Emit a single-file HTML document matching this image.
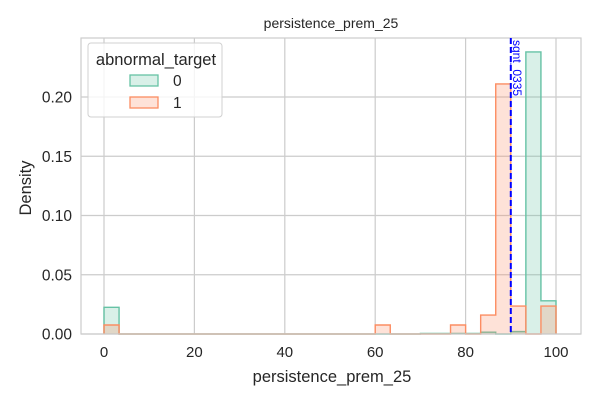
<!DOCTYPE html>
<html><head><meta charset="utf-8"><style>
html,body{margin:0;padding:0;background:#fff;}
svg{display:block;font-family:"Liberation Sans","DejaVu Sans",sans-serif;}
</style></head><body>
<svg id="chart" width="600" height="400">
<text x="331" y="28" text-anchor="middle" font-size="14" fill="#262626">persistence_prem_25</text>
<g id="grid"></g>
<g id="bars"></g>
<rect x="81" y="38" width="500" height="296" fill="none" stroke="#cccccc" stroke-width="1.2"/>
<g id="ticks"></g>
<text x="332" y="382" text-anchor="middle" font-size="16.5" fill="#262626">persistence_prem_25</text>
<text transform="translate(31,188) rotate(-90)" text-anchor="middle" font-size="16.5" fill="#262626">Density</text>
<g id="vline"></g>
<g>
<rect x="88" y="43" width="134" height="74" rx="3" fill="#fff" fill-opacity="0.8" stroke="#d0d0d0"/>
<text x="156" y="65" text-anchor="middle" font-size="16.5" fill="#262626">abnormal_target</text>
<rect x="130" y="75" width="28" height="11" fill="rgba(102,194,165,0.25)" stroke="#66c2a5" stroke-width="1.3"/>
<text x="173" y="86" font-size="15.5" fill="#262626">0</text>
<rect x="130" y="97" width="28" height="11" fill="rgba(252,141,98,0.25)" stroke="#fc8d62" stroke-width="1.3"/>
<text x="173" y="108" font-size="15.5" fill="#262626">1</text>
</g>
</svg>
<script>
const binEdges = [0,3.333,6.667,10,13.333,16.667,20,23.333,26.667,30,33.333,36.667,40,43.333,46.667,50,53.333,56.667,60,63.333,66.667,70,73.333,76.667,80,83.333,86.667,90,93.333,96.667,100];
const series0 = [0.0225,0,0,0,0,0,0,0,0,0,0,0,0,0,0,0,0,0,0,0,0,0.0005,0.0005,0.0005,0.0005,0.0015,0,0.002,0.238,0.028];
const series1 = [0.0076,0,0,0,0,0,0,0,0,0,0,0,0,0,0,0,0,0,0.0076,0,0,0,0,0.0076,0,0.016,0.211,0.0236,0,0.0236];
const xTicks = [0,20,40,60,80,100];
const yTicks = [0,0.05,0.10,0.15,0.20];
const yTickLabels = ["0.00","0.05","0.10","0.15","0.20"];
const vlineValue = 90;
const vlineLabel = "sgnt_0335";

const NS="http://www.w3.org/2000/svg";
const X = v => 104 + v*4.52;
const Y = v => 334 - v*1185;
function mk(tag, attrs, parent){const e=document.createElementNS(NS,tag);for(const k in attrs)e.setAttribute(k,attrs[k]);parent.appendChild(e);return e;}
const grid=document.getElementById('grid'), ticks=document.getElementById('ticks'), bars=document.getElementById('bars'), vl=document.getElementById('vline');
xTicks.forEach(t=>{
  const l=mk('line',{x1:X(t),x2:X(t),y1:38,y2:334,stroke:'#cccccc','stroke-width':1.2},grid);
  
  
  const tx=mk('text',{x:X(t),y:357,'text-anchor':'middle','font-size':15,fill:'#262626'},ticks);
  tx.textContent=t;
  
  
});
yTicks.forEach((t,i)=>{
  const l=mk('line',{x1:81,x2:581,y1:Y(t),y2:Y(t),stroke:'#cccccc','stroke-width':1.2},grid);
  
  
  const tx=mk('text',{x:72,y:Y(t)+5.5,'text-anchor':'end','font-size':15.5,fill:'#262626'},ticks);
  tx.textContent=yTickLabels[i];
  
  
});
function stepPath(vals){
  let d='M'+X(binEdges[0])+','+Y(0);
  vals.forEach((v,i)=>{d+=' L'+X(binEdges[i])+','+Y(v)+' L'+X(binEdges[i+1])+','+Y(v);});
  d+=' L'+X(binEdges[binEdges.length-1])+','+Y(0);
  return d;
}
function drawSeries(vals,color,fill,name){
  vals.forEach((v,i)=>{
    if(v<=0)return;
    const r=mk('rect',{x:X(binEdges[i]),y:Y(v),width:X(binEdges[i+1])-X(binEdges[i]),height:Y(0)-Y(v),fill:fill},bars);
    
    
  });
  const p=mk('path',{d:stepPath(vals),fill:'none',stroke:color,'stroke-width':1.4},bars);
  
  
}
drawSeries(series0,'#66c2a5','rgba(102,194,165,0.25)','series-0');
drawSeries(series1,'#fc8d62','rgba(252,141,98,0.25)','series-1');
const vline=mk('line',{x1:X(vlineValue),x2:X(vlineValue),y1:38,y2:334,stroke:'#0000ff','stroke-width':2,'stroke-dasharray':'6,3'},vl);


const vt=mk('text',{transform:'translate('+(X(vlineValue)+2)+',40) rotate(90)','font-size':12,fill:'#0000ff'},vl);
vt.textContent=vlineLabel;


</script>
</body></html>
